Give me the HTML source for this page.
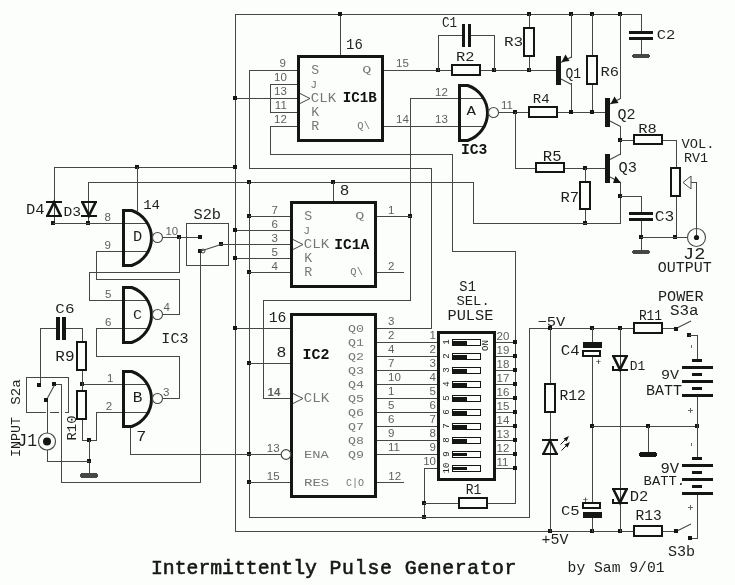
<!DOCTYPE html>
<html><head><meta charset="utf-8"><style>
html,body{margin:0;padding:0;background:#fcfefc;}
svg{display:block;will-change:transform;}
</style></head><body>
<svg width="735" height="585" viewBox="0 0 735 585">
<rect width="735" height="585" fill="#fcfefc"/>
<rect x="235" y="14" width="407" height="1" fill="#464845"/>
<rect x="235" y="14" width="1" height="518" fill="#464845"/>
<rect x="340" y="14" width="1" height="43" fill="#464845"/>
<rect x="338" y="12" width="4" height="4" fill="#141614"/>
<rect x="527" y="12" width="4" height="4" fill="#141614"/>
<rect x="569" y="12" width="4" height="4" fill="#141614"/>
<rect x="590" y="12" width="4" height="4" fill="#141614"/>
<rect x="618" y="12" width="4" height="4" fill="#141614"/>
<rect x="641" y="14" width="1" height="18" fill="#464845"/>
<rect x="641" y="38" width="1" height="17" fill="#464845"/>
<rect x="249" y="70" width="50" height="1" fill="#464845"/>
<rect x="249" y="70" width="1" height="99" fill="#464845"/>
<rect x="249" y="168" width="183" height="1" fill="#464845"/>
<rect x="431" y="168" width="1" height="161" fill="#464845"/>
<rect x="376" y="328" width="56" height="1" fill="#464845"/>
<rect x="270" y="84" width="29" height="1" fill="#464845"/>
<rect x="270" y="112" width="29" height="1" fill="#464845"/>
<rect x="270" y="84" width="1" height="29" fill="#464845"/>
<rect x="235" y="98" width="64" height="1" fill="#464845"/>
<rect x="233" y="96" width="4" height="4" fill="#141614"/>
<rect x="270" y="126" width="29" height="1" fill="#464845"/>
<rect x="270" y="126" width="1" height="29" fill="#464845"/>
<rect x="270" y="154" width="183" height="1" fill="#464845"/>
<rect x="452" y="154" width="1" height="98" fill="#464845"/>
<rect x="452" y="251" width="64" height="1" fill="#464845"/>
<rect x="515" y="251" width="1" height="253" fill="#464845"/>
<rect x="382" y="70" width="175" height="1" fill="#464845"/>
<rect x="436" y="68" width="4" height="4" fill="#141614"/>
<rect x="492" y="68" width="4" height="4" fill="#141614"/>
<rect x="527" y="68" width="4" height="4" fill="#141614"/>
<rect x="438" y="35" width="1" height="36" fill="#464845"/>
<rect x="494" y="35" width="1" height="36" fill="#464845"/>
<rect x="438" y="35" width="25" height="1" fill="#464845"/>
<rect x="470" y="35" width="25" height="1" fill="#464845"/>
<rect x="382" y="126" width="101" height="1" fill="#464845"/>
<rect x="410" y="98" width="73" height="1" fill="#464845"/>
<rect x="410" y="98" width="1" height="203" fill="#464845"/>
<rect x="408" y="214" width="4" height="4" fill="#141614"/>
<rect x="376" y="216" width="35" height="1" fill="#464845"/>
<rect x="376" y="272" width="28" height="1" fill="#464845"/>
<rect x="263" y="300" width="148" height="1" fill="#464845"/>
<rect x="263" y="300" width="1" height="99" fill="#464845"/>
<rect x="263" y="398" width="29" height="1" fill="#464845"/>
<rect x="529" y="14" width="1" height="14" fill="#464845"/>
<rect x="529" y="56" width="1" height="15" fill="#464845"/>
<rect x="571" y="14" width="1" height="44" fill="#464845"/>
<rect x="571" y="83" width="1" height="30" fill="#464845"/>
<rect x="592" y="14" width="1" height="42" fill="#464845"/>
<rect x="592" y="84" width="1" height="29" fill="#464845"/>
<rect x="498" y="112" width="31" height="1" fill="#464845"/>
<rect x="513" y="110" width="4" height="4" fill="#141614"/>
<rect x="557" y="112" width="49" height="1" fill="#464845"/>
<rect x="569" y="110" width="4" height="4" fill="#141614"/>
<rect x="590" y="110" width="4" height="4" fill="#141614"/>
<rect x="515" y="112" width="1" height="57" fill="#464845"/>
<rect x="515" y="168" width="21" height="1" fill="#464845"/>
<rect x="564" y="168" width="42" height="1" fill="#464845"/>
<rect x="583" y="166" width="4" height="4" fill="#141614"/>
<rect x="585" y="168" width="1" height="14" fill="#464845"/>
<rect x="585" y="209" width="1" height="15" fill="#464845"/>
<rect x="583" y="221" width="4" height="4" fill="#141614"/>
<rect x="473" y="223" width="148" height="1" fill="#464845"/>
<rect x="473" y="182" width="1" height="42" fill="#464845"/>
<rect x="620" y="14" width="1" height="85" fill="#464845"/>
<rect x="620" y="126" width="1" height="29" fill="#464845"/>
<rect x="618" y="138" width="4" height="4" fill="#141614"/>
<rect x="620" y="140" width="14" height="1" fill="#464845"/>
<rect x="662" y="140" width="15" height="1" fill="#464845"/>
<rect x="676" y="140" width="1" height="28" fill="#464845"/>
<rect x="676" y="196" width="1" height="42" fill="#464845"/>
<rect x="620" y="182" width="1" height="42" fill="#464845"/>
<rect x="618" y="194" width="4" height="4" fill="#141614"/>
<rect x="620" y="196" width="22" height="1" fill="#464845"/>
<rect x="641" y="196" width="1" height="17" fill="#464845"/>
<rect x="641" y="221" width="1" height="30" fill="#464845"/>
<rect x="639" y="235" width="4" height="4" fill="#141614"/>
<rect x="641" y="237" width="47" height="1" fill="#464845"/>
<rect x="673" y="235" width="4" height="4" fill="#141614"/>
<rect x="691" y="182" width="6" height="1" fill="#464845"/>
<rect x="696" y="182" width="1" height="56" fill="#464845"/>
<rect x="88" y="182" width="386" height="1" fill="#464845"/>
<rect x="247" y="180" width="4" height="4" fill="#141614"/>
<rect x="331" y="180" width="4" height="4" fill="#141614"/>
<rect x="333" y="182" width="1" height="21" fill="#464845"/>
<rect x="249" y="182" width="1" height="336" fill="#464845"/>
<rect x="247" y="214" width="4" height="4" fill="#141614"/>
<rect x="247" y="270" width="4" height="4" fill="#141614"/>
<rect x="247" y="361" width="4" height="4" fill="#141614"/>
<rect x="247" y="452" width="4" height="4" fill="#141614"/>
<rect x="247" y="480" width="4" height="4" fill="#141614"/>
<rect x="54" y="167" width="182" height="1" fill="#464845"/>
<rect x="135" y="165" width="4" height="4" fill="#141614"/>
<rect x="233" y="165" width="4" height="4" fill="#141614"/>
<rect x="137" y="167" width="1" height="44" fill="#464845"/>
<rect x="54" y="167" width="1" height="57" fill="#464845"/>
<rect x="51" y="221" width="4" height="4" fill="#141614"/>
<rect x="88" y="182" width="1" height="42" fill="#464845"/>
<rect x="86" y="221" width="4" height="4" fill="#141614"/>
<rect x="53" y="223" width="94" height="1" fill="#464845"/>
<rect x="96" y="251" width="51" height="1" fill="#464845"/>
<rect x="96" y="251" width="1" height="29" fill="#464845"/>
<rect x="96" y="279" width="84" height="1" fill="#464845"/>
<rect x="179" y="279" width="1" height="36" fill="#464845"/>
<rect x="162" y="314" width="18" height="1" fill="#464845"/>
<rect x="162" y="237" width="39" height="1" fill="#464845"/>
<rect x="177" y="235" width="4" height="4" fill="#141614"/>
<rect x="179" y="237" width="1" height="36" fill="#464845"/>
<rect x="89" y="272" width="91" height="1" fill="#464845"/>
<rect x="89" y="272" width="1" height="29" fill="#464845"/>
<rect x="89" y="300" width="58" height="1" fill="#464845"/>
<rect x="96" y="328" width="51" height="1" fill="#464845"/>
<rect x="96" y="328" width="1" height="29" fill="#464845"/>
<rect x="96" y="356" width="84" height="1" fill="#464845"/>
<rect x="179" y="356" width="1" height="43" fill="#464845"/>
<rect x="162" y="398" width="18" height="1" fill="#464845"/>
<rect x="82" y="384" width="65" height="1" fill="#464845"/>
<rect x="80" y="382" width="4" height="4" fill="#141614"/>
<rect x="96" y="412" width="51" height="1" fill="#464845"/>
<rect x="96" y="412" width="1" height="29" fill="#464845"/>
<rect x="82" y="440" width="15" height="1" fill="#464845"/>
<rect x="87" y="438" width="4" height="4" fill="#141614"/>
<rect x="89" y="440" width="1" height="34" fill="#464845"/>
<rect x="87" y="459" width="4" height="4" fill="#141614"/>
<rect x="130" y="426" width="1" height="29" fill="#464845"/>
<rect x="130" y="454" width="151" height="1" fill="#464845"/>
<rect x="40" y="328" width="17" height="1" fill="#464845"/>
<rect x="66" y="328" width="17" height="1" fill="#464845"/>
<rect x="82" y="328" width="1" height="14" fill="#464845"/>
<rect x="82" y="370" width="1" height="21" fill="#464845"/>
<rect x="82" y="419" width="1" height="22" fill="#464845"/>
<rect x="40" y="328" width="1" height="56" fill="#464845"/>
<rect x="54" y="384" width="8" height="1" fill="#464845"/>
<rect x="61" y="384" width="1" height="99" fill="#464845"/>
<rect x="61" y="482" width="140" height="1" fill="#464845"/>
<rect x="47" y="400" width="1" height="35" fill="#464845"/>
<rect x="47" y="449" width="1" height="13" fill="#464845"/>
<rect x="47" y="461" width="43" height="1" fill="#464845"/>
<rect x="200" y="251" width="1" height="232" fill="#464845"/>
<rect x="249" y="216" width="44" height="1" fill="#464845"/>
<rect x="235" y="230" width="58" height="1" fill="#464845"/>
<rect x="233" y="228" width="4" height="4" fill="#141614"/>
<rect x="221" y="244" width="72" height="1" fill="#464845"/>
<rect x="235" y="258" width="58" height="1" fill="#464845"/>
<rect x="233" y="256" width="4" height="4" fill="#141614"/>
<rect x="249" y="272" width="44" height="1" fill="#464845"/>
<rect x="235" y="328" width="57" height="1" fill="#464845"/>
<rect x="233" y="326" width="4" height="4" fill="#141614"/>
<rect x="249" y="363" width="43" height="1" fill="#464845"/>
<rect x="249" y="482" width="43" height="1" fill="#464845"/>
<rect x="376" y="342" width="63" height="1" fill="#464845"/>
<rect x="376" y="356" width="63" height="1" fill="#464845"/>
<rect x="376" y="370" width="63" height="1" fill="#464845"/>
<rect x="376" y="384" width="63" height="1" fill="#464845"/>
<rect x="376" y="398" width="63" height="1" fill="#464845"/>
<rect x="376" y="412" width="63" height="1" fill="#464845"/>
<rect x="376" y="426" width="63" height="1" fill="#464845"/>
<rect x="376" y="440" width="63" height="1" fill="#464845"/>
<rect x="376" y="454" width="63" height="1" fill="#464845"/>
<rect x="376" y="482" width="28" height="1" fill="#464845"/>
<rect x="495" y="342" width="21" height="1" fill="#464845"/>
<rect x="513" y="340" width="4" height="4" fill="#141614"/>
<rect x="495" y="356" width="21" height="1" fill="#464845"/>
<rect x="513" y="354" width="4" height="4" fill="#141614"/>
<rect x="495" y="370" width="21" height="1" fill="#464845"/>
<rect x="513" y="368" width="4" height="4" fill="#141614"/>
<rect x="495" y="384" width="21" height="1" fill="#464845"/>
<rect x="513" y="382" width="4" height="4" fill="#141614"/>
<rect x="495" y="398" width="21" height="1" fill="#464845"/>
<rect x="513" y="396" width="4" height="4" fill="#141614"/>
<rect x="495" y="412" width="21" height="1" fill="#464845"/>
<rect x="513" y="410" width="4" height="4" fill="#141614"/>
<rect x="495" y="426" width="21" height="1" fill="#464845"/>
<rect x="513" y="424" width="4" height="4" fill="#141614"/>
<rect x="495" y="440" width="21" height="1" fill="#464845"/>
<rect x="513" y="438" width="4" height="4" fill="#141614"/>
<rect x="495" y="454" width="21" height="1" fill="#464845"/>
<rect x="513" y="452" width="4" height="4" fill="#141614"/>
<rect x="495" y="468" width="21" height="1" fill="#464845"/>
<rect x="513" y="466" width="4" height="4" fill="#141614"/>
<rect x="424" y="468" width="15" height="1" fill="#464845"/>
<rect x="424" y="468" width="1" height="50" fill="#464845"/>
<rect x="422" y="501" width="4" height="4" fill="#141614"/>
<rect x="422" y="515" width="4" height="4" fill="#141614"/>
<rect x="424" y="503" width="35" height="1" fill="#464845"/>
<rect x="487" y="503" width="29" height="1" fill="#464845"/>
<rect x="249" y="517" width="281" height="1" fill="#464845"/>
<rect x="529" y="328" width="1" height="190" fill="#464845"/>
<rect x="235" y="531" width="399" height="1" fill="#464845"/>
<rect x="548" y="529" width="4" height="4" fill="#141614"/>
<rect x="590" y="529" width="4" height="4" fill="#141614"/>
<rect x="618" y="529" width="4" height="4" fill="#141614"/>
<rect x="529" y="328" width="105" height="1" fill="#464845"/>
<rect x="548" y="326" width="4" height="4" fill="#141614"/>
<rect x="590" y="326" width="4" height="4" fill="#141614"/>
<rect x="618" y="326" width="4" height="4" fill="#141614"/>
<rect x="662" y="328" width="14" height="1" fill="#464845"/>
<rect x="674" y="327" width="4" height="4" fill="#141614"/>
<rect x="687" y="333" width="4" height="4" fill="#141614"/>
<rect x="689" y="335" width="9" height="1" fill="#464845"/>
<rect x="697" y="335" width="1" height="26" fill="#464845"/>
<rect x="550" y="328" width="1" height="56" fill="#464845"/>
<rect x="550" y="412" width="1" height="120" fill="#464845"/>
<rect x="592" y="328" width="1" height="15" fill="#464845"/>
<rect x="592" y="356" width="1" height="147" fill="#464845"/>
<rect x="592" y="517" width="1" height="15" fill="#464845"/>
<rect x="590" y="424" width="4" height="4" fill="#141614"/>
<rect x="620" y="328" width="1" height="204" fill="#464845"/>
<rect x="592" y="426" width="106" height="1" fill="#464845"/>
<rect x="646" y="424" width="4" height="4" fill="#141614"/>
<rect x="695" y="424" width="4" height="4" fill="#141614"/>
<rect x="648" y="426" width="1" height="27" fill="#464845"/>
<rect x="697" y="396" width="1" height="31" fill="#464845"/>
<rect x="697" y="426" width="1" height="33" fill="#464845"/>
<rect x="697" y="494" width="1" height="45" fill="#464845"/>
<rect x="689" y="538" width="9" height="1" fill="#464845"/>
<rect x="688" y="536" width="4" height="4" fill="#141614"/>
<rect x="662" y="531" width="14" height="1" fill="#464845"/>
<rect x="674" y="529" width="4" height="4" fill="#141614"/>
<rect x="451" y="64" width="30" height="12" fill="#fcfefc"/>
<rect x="451" y="64" width="30" height="2" fill="#141614"/>
<rect x="451" y="74" width="30" height="2" fill="#141614"/>
<rect x="451" y="64" width="2" height="12" fill="#141614"/>
<rect x="479" y="64" width="2" height="12" fill="#141614"/>
<rect x="523" y="27" width="12" height="30" fill="#fcfefc"/>
<rect x="523" y="27" width="12" height="2" fill="#141614"/>
<rect x="523" y="55" width="12" height="2" fill="#141614"/>
<rect x="523" y="27" width="2" height="30" fill="#141614"/>
<rect x="533" y="27" width="2" height="30" fill="#141614"/>
<rect x="586" y="55" width="12" height="30" fill="#fcfefc"/>
<rect x="586" y="55" width="12" height="2" fill="#141614"/>
<rect x="586" y="83" width="12" height="2" fill="#141614"/>
<rect x="586" y="55" width="2" height="30" fill="#141614"/>
<rect x="596" y="55" width="2" height="30" fill="#141614"/>
<rect x="528" y="106" width="30" height="12" fill="#fcfefc"/>
<rect x="528" y="106" width="30" height="2" fill="#141614"/>
<rect x="528" y="116" width="30" height="2" fill="#141614"/>
<rect x="528" y="106" width="2" height="12" fill="#141614"/>
<rect x="556" y="106" width="2" height="12" fill="#141614"/>
<rect x="535" y="162" width="30" height="11" fill="#fcfefc"/>
<rect x="535" y="162" width="30" height="2" fill="#141614"/>
<rect x="535" y="171" width="30" height="2" fill="#141614"/>
<rect x="535" y="162" width="2" height="11" fill="#141614"/>
<rect x="563" y="162" width="2" height="11" fill="#141614"/>
<rect x="579" y="181" width="12" height="29" fill="#fcfefc"/>
<rect x="579" y="181" width="12" height="2" fill="#141614"/>
<rect x="579" y="208" width="12" height="2" fill="#141614"/>
<rect x="579" y="181" width="2" height="29" fill="#141614"/>
<rect x="589" y="181" width="2" height="29" fill="#141614"/>
<rect x="633" y="134" width="30" height="11" fill="#fcfefc"/>
<rect x="633" y="134" width="30" height="2" fill="#141614"/>
<rect x="633" y="143" width="30" height="2" fill="#141614"/>
<rect x="633" y="134" width="2" height="11" fill="#141614"/>
<rect x="661" y="134" width="2" height="11" fill="#141614"/>
<rect x="670" y="167" width="11" height="30" fill="#fcfefc"/>
<rect x="670" y="167" width="11" height="2" fill="#141614"/>
<rect x="670" y="195" width="11" height="2" fill="#141614"/>
<rect x="670" y="167" width="2" height="30" fill="#141614"/>
<rect x="679" y="167" width="2" height="30" fill="#141614"/>
<rect x="633" y="322" width="30" height="12" fill="#fcfefc"/>
<rect x="633" y="322" width="30" height="2" fill="#141614"/>
<rect x="633" y="332" width="30" height="2" fill="#141614"/>
<rect x="633" y="322" width="2" height="12" fill="#141614"/>
<rect x="661" y="322" width="2" height="12" fill="#141614"/>
<rect x="544" y="383" width="12" height="30" fill="#fcfefc"/>
<rect x="544" y="383" width="12" height="2" fill="#141614"/>
<rect x="544" y="411" width="12" height="2" fill="#141614"/>
<rect x="544" y="383" width="2" height="30" fill="#141614"/>
<rect x="554" y="383" width="2" height="30" fill="#141614"/>
<rect x="633" y="525" width="30" height="12" fill="#fcfefc"/>
<rect x="633" y="525" width="30" height="2" fill="#141614"/>
<rect x="633" y="535" width="30" height="2" fill="#141614"/>
<rect x="633" y="525" width="2" height="12" fill="#141614"/>
<rect x="661" y="525" width="2" height="12" fill="#141614"/>
<rect x="458" y="497" width="30" height="12" fill="#fcfefc"/>
<rect x="458" y="497" width="30" height="2" fill="#141614"/>
<rect x="458" y="507" width="30" height="2" fill="#141614"/>
<rect x="458" y="497" width="2" height="12" fill="#141614"/>
<rect x="486" y="497" width="2" height="12" fill="#141614"/>
<rect x="76" y="341" width="11" height="30" fill="#fcfefc"/>
<rect x="76" y="341" width="11" height="2" fill="#141614"/>
<rect x="76" y="369" width="11" height="2" fill="#141614"/>
<rect x="76" y="341" width="2" height="30" fill="#141614"/>
<rect x="85" y="341" width="2" height="30" fill="#141614"/>
<rect x="76" y="390" width="11" height="30" fill="#fcfefc"/>
<rect x="76" y="390" width="11" height="2" fill="#141614"/>
<rect x="76" y="418" width="11" height="2" fill="#141614"/>
<rect x="76" y="390" width="2" height="30" fill="#141614"/>
<rect x="85" y="390" width="2" height="30" fill="#141614"/>
<rect x="462" y="24" width="3" height="23" fill="#141614"/>
<rect x="468" y="24" width="3" height="23" fill="#141614"/>
<rect x="629" y="31" width="24" height="3" fill="#141614"/>
<rect x="629" y="37" width="24" height="3" fill="#141614"/>
<rect x="629" y="212" width="24" height="3" fill="#141614"/>
<rect x="629" y="218" width="24" height="3" fill="#141614"/>
<rect x="56" y="317" width="4" height="23" fill="#141614"/>
<rect x="62" y="317" width="4" height="23" fill="#141614"/>
<rect x="583" y="342" width="19" height="6" fill="#141614"/>
<rect x="582" y="350" width="19" height="7" fill="#fcfefc"/>
<rect x="582" y="350" width="19" height="2" fill="#141614"/>
<rect x="582" y="355" width="19" height="2" fill="#141614"/>
<rect x="582" y="350" width="2" height="7" fill="#141614"/>
<rect x="599" y="350" width="2" height="7" fill="#141614"/>
<text x="595.5" y="365" font-family="Liberation Mono" font-size="9.5" font-weight="normal" fill="#1a1a1a" text-anchor="start" >+</text>
<rect x="582" y="502" width="19" height="7" fill="#fcfefc"/>
<rect x="582" y="502" width="19" height="2" fill="#141614"/>
<rect x="582" y="507" width="19" height="2" fill="#141614"/>
<rect x="582" y="502" width="2" height="7" fill="#141614"/>
<rect x="599" y="502" width="2" height="7" fill="#141614"/>
<rect x="583" y="512" width="19" height="6" fill="#141614"/>
<text x="582.5" y="502.5" font-family="Liberation Mono" font-size="9.5" font-weight="normal" fill="#1a1a1a" text-anchor="start" >+</text>
<rect x="633" y="54" width="16" height="4" fill="#464845"/>
<rect x="632" y="55" width="18" height="2" fill="#464845"/>
<rect x="633" y="250" width="16" height="4" fill="#464845"/>
<rect x="632" y="251" width="18" height="2" fill="#464845"/>
<rect x="81" y="473" width="16" height="5" fill="#464845"/>
<rect x="80" y="474" width="18" height="3" fill="#464845"/>
<rect x="640" y="452" width="16" height="5" fill="#141614"/>
<rect x="639" y="453" width="18" height="3" fill="#141614"/>
<rect x="81" y="201" width="16" height="2" fill="#141614"/>
<rect x="81" y="215" width="16" height="2" fill="#141614"/>
<path d="M82.3,202 L89.0,215.5 L95.7,202" fill="none" stroke="#141614" stroke-width="2.6"/>
<rect x="46" y="201" width="16" height="2" fill="#141614"/>
<rect x="46" y="215" width="16" height="2" fill="#141614"/>
<path d="M47.3,216 L54.0,202.5 L60.7,216" fill="none" stroke="#141614" stroke-width="2.6"/>
<rect x="612" y="355" width="16" height="2" fill="#141614"/>
<rect x="612" y="369" width="16" height="2" fill="#141614"/>
<path d="M613.3,356 L620.0,369.5 L626.7,356" fill="none" stroke="#141614" stroke-width="2.6"/>
<rect x="612" y="366" width="2" height="3" fill="#141614"/>
<rect x="612" y="488" width="16" height="2" fill="#141614"/>
<rect x="612" y="502" width="16" height="2" fill="#141614"/>
<path d="M613.3,489 L620.0,502.5 L626.7,489" fill="none" stroke="#141614" stroke-width="2.6"/>
<rect x="612" y="499" width="2" height="3" fill="#141614"/>
<rect x="542" y="439" width="16" height="2" fill="#141614"/>
<rect x="542" y="453" width="16" height="2" fill="#141614"/>
<path d="M543.3,454 L550.0,440.5 L556.7,454" fill="none" stroke="#141614" stroke-width="2.2"/>
<g stroke="#141614" stroke-width="1" fill="none"><path d="M560.5,444.5 L566,439"/><path d="M561.5,450.5 L567,445"/></g>
<path d="M569,436 L563.5,438.5 L566.5,441.5 Z" fill="#141614"/><path d="M570,442 L564.5,444.5 L567.5,447.5 Z" fill="#141614"/>
<path d="M459.5,84.0 L459.5,140.5 L467.71,140.5 A29.0,29.0 0 0 0 467.71,85.5 L459.5,85.5" fill="none" stroke="#141614" stroke-width="3"/>
<circle cx="493.5" cy="112.5" r="5" fill="#fcfefc" stroke="#464845" stroke-width="1.1"/>
<path d="M123.5,209.0 L123.5,265.5 L131.71,265.5 A29.0,29.0 0 0 0 131.71,210.5 L123.5,210.5" fill="none" stroke="#141614" stroke-width="3"/>
<circle cx="157.5" cy="237.5" r="5" fill="#fcfefc" stroke="#464845" stroke-width="1.1"/>
<path d="M123.5,286.0 L123.5,342.5 L131.71,342.5 A29.0,29.0 0 0 0 131.71,287.5 L123.5,287.5" fill="none" stroke="#141614" stroke-width="3"/>
<circle cx="157.5" cy="314.5" r="5" fill="#fcfefc" stroke="#464845" stroke-width="1.1"/>
<path d="M123.5,370.0 L123.5,426.5 L131.71,426.5 A29.0,29.0 0 0 0 131.71,371.5 L123.5,371.5" fill="none" stroke="#141614" stroke-width="3"/>
<circle cx="157.5" cy="398.5" r="5" fill="#fcfefc" stroke="#464845" stroke-width="1.1"/>
<rect x="297" y="55" width="87" height="3" fill="#141614"/>
<rect x="297" y="139" width="87" height="3" fill="#141614"/>
<rect x="297" y="55" width="3" height="87" fill="#141614"/>
<rect x="381" y="55" width="3" height="87" fill="#141614"/>
<rect x="290" y="201" width="87" height="3" fill="#141614"/>
<rect x="290" y="285" width="87" height="3" fill="#141614"/>
<rect x="290" y="201" width="3" height="87" fill="#141614"/>
<rect x="374" y="201" width="3" height="87" fill="#141614"/>
<rect x="290" y="313" width="87" height="3" fill="#141614"/>
<rect x="290" y="495" width="87" height="3" fill="#141614"/>
<rect x="290" y="313" width="3" height="185" fill="#141614"/>
<rect x="374" y="313" width="3" height="185" fill="#141614"/>
<path d="M300,93.5 L310,98.5 L300,103.5" fill="none" stroke="#464845" stroke-width="1"/>
<path d="M293,239.5 L303,244.5 L293,249.5" fill="none" stroke="#464845" stroke-width="1"/>
<path d="M293,393.5 L303,398.5 L293,403.5" fill="none" stroke="#464845" stroke-width="1"/>
<circle cx="286" cy="454.5" r="4.8" fill="#fcfefc" stroke="#464845" stroke-width="1.2"/>
<rect x="437" y="331" width="59" height="3" fill="#141614"/>
<rect x="437" y="478" width="59" height="3" fill="#141614"/>
<rect x="437" y="331" width="3" height="150" fill="#141614"/>
<rect x="493" y="331" width="3" height="150" fill="#141614"/>
<rect x="452" y="339" width="29" height="7" fill="#fcfefc"/>
<rect x="452" y="339" width="29" height="1" fill="#141614"/>
<rect x="452" y="345" width="29" height="1" fill="#141614"/>
<rect x="452" y="339" width="1" height="7" fill="#141614"/>
<rect x="480" y="339" width="1" height="7" fill="#141614"/>
<rect x="452" y="341" width="15" height="5" fill="#141614"/>
<rect x="452" y="353" width="29" height="7" fill="#fcfefc"/>
<rect x="452" y="353" width="29" height="1" fill="#141614"/>
<rect x="452" y="359" width="29" height="1" fill="#141614"/>
<rect x="452" y="353" width="1" height="7" fill="#141614"/>
<rect x="480" y="353" width="1" height="7" fill="#141614"/>
<rect x="452" y="355" width="15" height="5" fill="#141614"/>
<rect x="452" y="367" width="29" height="7" fill="#fcfefc"/>
<rect x="452" y="367" width="29" height="1" fill="#141614"/>
<rect x="452" y="373" width="29" height="1" fill="#141614"/>
<rect x="452" y="367" width="1" height="7" fill="#141614"/>
<rect x="480" y="367" width="1" height="7" fill="#141614"/>
<rect x="452" y="369" width="15" height="5" fill="#141614"/>
<rect x="452" y="381" width="29" height="7" fill="#fcfefc"/>
<rect x="452" y="381" width="29" height="1" fill="#141614"/>
<rect x="452" y="387" width="29" height="1" fill="#141614"/>
<rect x="452" y="381" width="1" height="7" fill="#141614"/>
<rect x="480" y="381" width="1" height="7" fill="#141614"/>
<rect x="452" y="383" width="15" height="5" fill="#141614"/>
<rect x="452" y="395" width="29" height="7" fill="#fcfefc"/>
<rect x="452" y="395" width="29" height="1" fill="#141614"/>
<rect x="452" y="401" width="29" height="1" fill="#141614"/>
<rect x="452" y="395" width="1" height="7" fill="#141614"/>
<rect x="480" y="395" width="1" height="7" fill="#141614"/>
<rect x="452" y="397" width="15" height="5" fill="#141614"/>
<rect x="452" y="409" width="29" height="7" fill="#fcfefc"/>
<rect x="452" y="409" width="29" height="1" fill="#141614"/>
<rect x="452" y="415" width="29" height="1" fill="#141614"/>
<rect x="452" y="409" width="1" height="7" fill="#141614"/>
<rect x="480" y="409" width="1" height="7" fill="#141614"/>
<rect x="452" y="411" width="15" height="5" fill="#141614"/>
<rect x="452" y="423" width="29" height="7" fill="#fcfefc"/>
<rect x="452" y="423" width="29" height="1" fill="#141614"/>
<rect x="452" y="429" width="29" height="1" fill="#141614"/>
<rect x="452" y="423" width="1" height="7" fill="#141614"/>
<rect x="480" y="423" width="1" height="7" fill="#141614"/>
<rect x="452" y="425" width="15" height="5" fill="#141614"/>
<rect x="452" y="437" width="29" height="7" fill="#fcfefc"/>
<rect x="452" y="437" width="29" height="1" fill="#141614"/>
<rect x="452" y="443" width="29" height="1" fill="#141614"/>
<rect x="452" y="437" width="1" height="7" fill="#141614"/>
<rect x="480" y="437" width="1" height="7" fill="#141614"/>
<rect x="452" y="439" width="15" height="5" fill="#141614"/>
<rect x="452" y="451" width="29" height="7" fill="#fcfefc"/>
<rect x="452" y="451" width="29" height="1" fill="#141614"/>
<rect x="452" y="457" width="29" height="1" fill="#141614"/>
<rect x="452" y="451" width="1" height="7" fill="#141614"/>
<rect x="480" y="451" width="1" height="7" fill="#141614"/>
<rect x="452" y="453" width="15" height="3" fill="#141614"/>
<rect x="452" y="465" width="29" height="7" fill="#fcfefc"/>
<rect x="452" y="465" width="29" height="1" fill="#141614"/>
<rect x="452" y="471" width="29" height="1" fill="#141614"/>
<rect x="452" y="465" width="1" height="7" fill="#141614"/>
<rect x="480" y="465" width="1" height="7" fill="#141614"/>
<rect x="452" y="467" width="15" height="3" fill="#141614"/>
<rect x="186" y="223" width="43" height="1" fill="#464845"/>
<rect x="186" y="265" width="43" height="1" fill="#464845"/>
<rect x="186" y="223" width="1" height="43" fill="#464845"/>
<rect x="228" y="223" width="1" height="43" fill="#464845"/>
<rect x="26" y="377" width="43" height="1" fill="#464845"/>
<rect x="26" y="377" width="1" height="36" fill="#464845"/>
<rect x="68" y="377" width="1" height="36" fill="#464845"/>
<rect x="26" y="412" width="20" height="1" fill="#464845"/>
<rect x="50" y="412" width="9" height="1" fill="#464845"/>
<rect x="65" y="412" width="4" height="1" fill="#464845"/>
<rect x="198" y="235" width="4" height="4" fill="#141614"/>
<rect x="198" y="249" width="4" height="4" fill="#141614"/>
<rect x="219" y="242" width="4" height="4" fill="#141614"/>
<path d="M201,251 L221,244.5" stroke="#464845" stroke-width="1.2"/>
<circle cx="203" cy="251" r="2" fill="none" stroke="#464845"/>
<rect x="221" y="244" width="15" height="1" fill="#464845"/>
<rect x="37" y="383" width="4" height="4" fill="#141614"/>
<rect x="44" y="398" width="4" height="4" fill="#141614"/>
<rect x="52" y="382" width="4" height="4" fill="#141614"/>
<path d="M47.5,398 L54.5,385" stroke="#464845" stroke-width="1.1"/>
<path d="M678,327.5 L691,321" stroke="#464845" stroke-width="1.1"/>
<path d="M678,530.5 L691,524" stroke="#464845" stroke-width="1.1"/>
<rect x="556" y="56" width="5" height="29" fill="#141614"/>
<rect x="605" y="98" width="5" height="29" fill="#141614"/>
<rect x="605" y="154" width="5" height="29" fill="#141614"/>
<g stroke="#464845" stroke-width="1.1" fill="none"><path d="M561,62.5 L571.5,57"/><path d="M561,79 L571.5,84.5"/><path d="M610,104 L620.5,98.5"/><path d="M610,121 L620.5,126.5"/><path d="M610,159.5 L620.5,154"/><path d="M610,177 L620.5,182.5"/></g>
<path d="M561.5,62 L565.5,54.5 L569.5,61 Z" fill="#141614"/>
<path d="M610.5,104 L614.5,96.5 L618.5,103 Z" fill="#141614"/>
<path d="M613,183 L615.5,176 L621,183 Z" fill="#141614"/>
<path d="M691,176 L683,182.5 L691,189 Z" fill="#fcfefc" stroke="#464845" stroke-width="1"/>
<circle cx="696.5" cy="237.5" r="9" fill="#fcfefc" stroke="#464845" stroke-width="1.1"/>
<rect x="696" y="229" width="1" height="9" fill="#464845"/>
<circle cx="696.5" cy="237.5" r="2.6" fill="#141614"/>
<rect x="641" y="237" width="47" height="1" fill="#464845"/>
<circle cx="47" cy="441.5" r="8.5" fill="#fcfefc" stroke="#464845" stroke-width="1.2"/>
<circle cx="47" cy="441.5" r="4" fill="#141614"/>
<rect x="692" y="359" width="10" height="3" fill="#141614"/>
<rect x="682" y="366" width="31" height="3" fill="#141614"/>
<rect x="692" y="373" width="10" height="3" fill="#141614"/>
<rect x="682" y="380" width="31" height="3" fill="#141614"/>
<rect x="692" y="387" width="10" height="3" fill="#141614"/>
<rect x="682" y="394" width="31" height="3" fill="#141614"/>
<rect x="692" y="457" width="10" height="3" fill="#141614"/>
<rect x="682" y="464" width="31" height="3" fill="#141614"/>
<rect x="692" y="471" width="10" height="3" fill="#141614"/>
<rect x="682" y="478" width="31" height="3" fill="#141614"/>
<rect x="692" y="485" width="10" height="3" fill="#141614"/>
<rect x="682" y="492" width="31" height="3" fill="#141614"/>
<rect x="691" y="345" width="1" height="3" fill="#6a6a6a"/>
<rect x="691" y="443" width="1" height="3" fill="#6a6a6a"/>
<rect x="688" y="410" width="5" height="1" fill="#6a6a6a"/>
<rect x="690" y="408" width="1" height="5" fill="#6a6a6a"/>
<rect x="688" y="507" width="5" height="1" fill="#6a6a6a"/>
<rect x="690" y="505" width="1" height="5" fill="#6a6a6a"/>
<text x="150.95" y="573.8" font-family="Liberation Mono" font-size="19.8" fill="#161616" stroke="#161616" stroke-width="0.6" textLength="166.01" lengthAdjust="spacing">Intermittently</text>
<text x="329.43" y="573.8" font-family="Liberation Mono" font-size="19.8" fill="#161616" stroke="#161616" stroke-width="0.6" textLength="62.47" lengthAdjust="spacing">Pulse</text>
<text x="404.71" y="573.8" font-family="Liberation Mono" font-size="19.8" fill="#161616" stroke="#161616" stroke-width="0.6" textLength="111.77" lengthAdjust="spacing">Generator</text>
<text x="567.58" y="571.7" font-family="Liberation Mono" font-size="13.96" font-weight="normal" fill="#1e1e1e" text-anchor="start" textLength="96.93" lengthAdjust="spacingAndGlyphs" >by Sam 9/01</text>
<text x="346.02" y="49.2" font-family="Liberation Mono" font-size="14.72" font-weight="normal" fill="#1e1e1e" text-anchor="start" textLength="16.76" lengthAdjust="spacingAndGlyphs" >16</text>
<text x="442.03" y="27" font-family="Liberation Mono" font-size="14.57" font-weight="normal" fill="#1e1e1e" text-anchor="start" textLength="15.13" lengthAdjust="spacingAndGlyphs" >C1</text>
<text x="455.98" y="61" font-family="Liberation Mono" font-size="12.75" font-weight="normal" fill="#1e1e1e" text-anchor="start" textLength="18.44" lengthAdjust="spacingAndGlyphs" >R2</text>
<text x="503.91" y="46" font-family="Liberation Mono" font-size="13.66" font-weight="normal" fill="#1e1e1e" text-anchor="start" textLength="19.19" lengthAdjust="spacingAndGlyphs" >R3</text>
<text x="565.57" y="78" font-family="Liberation Mono" font-size="14.11" font-weight="normal" fill="#1e1e1e" text-anchor="start" textLength="15.56" lengthAdjust="spacingAndGlyphs" >Q1</text>
<text x="600.53" y="75.5" font-family="Liberation Mono" font-size="13.35" font-weight="normal" fill="#1e1e1e" text-anchor="start" textLength="18.54" lengthAdjust="spacingAndGlyphs" >R6</text>
<text x="656.71" y="39.4" font-family="Liberation Mono" font-size="13.66" font-weight="normal" fill="#1e1e1e" text-anchor="start" textLength="18.69" lengthAdjust="spacingAndGlyphs" >C2</text>
<text x="532.86" y="103" font-family="Liberation Mono" font-size="13.05" font-weight="normal" fill="#1e1e1e" text-anchor="start" textLength="16.79" lengthAdjust="spacingAndGlyphs" >R4</text>
<text x="617.47" y="118.5" font-family="Liberation Mono" font-size="14.11" font-weight="normal" fill="#1e1e1e" text-anchor="start" textLength="18.06" lengthAdjust="spacingAndGlyphs" >Q2</text>
<text x="638.33" y="133" font-family="Liberation Mono" font-size="13.35" font-weight="normal" fill="#1e1e1e" text-anchor="start" textLength="18.54" lengthAdjust="spacingAndGlyphs" >R8</text>
<text x="681.41" y="147.6" font-family="Liberation Mono" font-size="13.66" font-weight="normal" fill="#1e1e1e" text-anchor="start" textLength="32.99" lengthAdjust="spacingAndGlyphs" >VOL.</text>
<text x="683.96" y="161.6" font-family="Liberation Mono" font-size="13.05" font-weight="normal" fill="#1e1e1e" text-anchor="start" textLength="24.09" lengthAdjust="spacingAndGlyphs" >RV1</text>
<text x="542.88" y="160.5" font-family="Liberation Mono" font-size="13.96" font-weight="normal" fill="#1e1e1e" text-anchor="start" textLength="18.73" lengthAdjust="spacingAndGlyphs" >R5</text>
<text x="618.48" y="171.8" font-family="Liberation Mono" font-size="13.96" font-weight="normal" fill="#1e1e1e" text-anchor="start" textLength="18.43" lengthAdjust="spacingAndGlyphs" >Q3</text>
<text x="560.47" y="201.6" font-family="Liberation Mono" font-size="14.11" font-weight="normal" fill="#1e1e1e" text-anchor="start" textLength="18.66" lengthAdjust="spacingAndGlyphs" >R7</text>
<text x="654.65" y="220.5" font-family="Liberation Mono" font-size="14.42" font-weight="normal" fill="#1e1e1e" text-anchor="start" textLength="19.51" lengthAdjust="spacingAndGlyphs" >C3</text>
<text x="657.73" y="271.8" font-family="Liberation Mono" font-size="14.57" font-weight="normal" fill="#1e1e1e" text-anchor="start" textLength="54.03" lengthAdjust="spacingAndGlyphs" >OUTPUT</text>
<text x="657.97" y="300.6" font-family="Liberation Mono" font-size="14.11" font-weight="normal" fill="#1e1e1e" text-anchor="start" textLength="45.56" lengthAdjust="spacingAndGlyphs" >POWER</text>
<text x="670.0" y="314.6" font-family="Liberation Mono" font-size="15.02" font-weight="normal" fill="#1e1e1e" text-anchor="start" textLength="28.7" lengthAdjust="spacingAndGlyphs" >S3a</text>
<text x="638.88" y="319.7" font-family="Liberation Mono" font-size="13.96" font-weight="normal" fill="#1e1e1e" text-anchor="start" textLength="23.23" lengthAdjust="spacingAndGlyphs" >R11</text>
<text x="537.42" y="326.3" font-family="Liberation Mono" font-size="13.51" font-weight="normal" fill="#1e1e1e" text-anchor="start" textLength="27.76" lengthAdjust="spacingAndGlyphs" >−5V</text>
<text x="560.86" y="355" font-family="Liberation Mono" font-size="14.26" font-weight="normal" fill="#1e1e1e" text-anchor="start" textLength="18.78" lengthAdjust="spacingAndGlyphs" >C4</text>
<text x="629.73" y="369.8" font-family="Liberation Mono" font-size="13.35" font-weight="normal" fill="#1e1e1e" text-anchor="start" textLength="15.54" lengthAdjust="spacingAndGlyphs" >D1</text>
<text x="559.42" y="400" font-family="Liberation Mono" font-size="14.72" font-weight="normal" fill="#1e1e1e" text-anchor="start" textLength="26.36" lengthAdjust="spacingAndGlyphs" >R12</text>
<text x="660.96" y="378.6" font-family="Liberation Mono" font-size="13.05" font-weight="normal" fill="#1e1e1e" text-anchor="start" textLength="18.09" lengthAdjust="spacingAndGlyphs" >9V</text>
<text x="646.08" y="394.6" font-family="Liberation Mono" font-size="13.96" font-weight="normal" fill="#1e1e1e" text-anchor="start" textLength="36.03" lengthAdjust="spacingAndGlyphs" >BATT</text>
<text x="660.43" y="472.8" font-family="Liberation Mono" font-size="14.57" font-weight="normal" fill="#1e1e1e" text-anchor="start" textLength="18.73" lengthAdjust="spacingAndGlyphs" >9V</text>
<text x="643.61" y="484.5" font-family="Liberation Mono" font-size="13.66" font-weight="normal" fill="#1e1e1e" text-anchor="start" textLength="41.49" lengthAdjust="spacingAndGlyphs" >BATT.</text>
<text x="629.67" y="500.6" font-family="Liberation Mono" font-size="14.11" font-weight="normal" fill="#1e1e1e" text-anchor="start" textLength="18.66" lengthAdjust="spacingAndGlyphs" >D2</text>
<text x="560.93" y="514.5" font-family="Liberation Mono" font-size="13.35" font-weight="normal" fill="#1e1e1e" text-anchor="start" textLength="18.64" lengthAdjust="spacingAndGlyphs" >C5</text>
<text x="635.48" y="520" font-family="Liberation Mono" font-size="13.96" font-weight="normal" fill="#1e1e1e" text-anchor="start" textLength="26.23" lengthAdjust="spacingAndGlyphs" >R13</text>
<text x="541.57" y="543.9" font-family="Liberation Mono" font-size="14.11" font-weight="normal" fill="#1e1e1e" text-anchor="start" textLength="26.86" lengthAdjust="spacingAndGlyphs" >+5V</text>
<text x="667.97" y="555.8" font-family="Liberation Mono" font-size="15.33" font-weight="normal" fill="#1e1e1e" text-anchor="start" textLength="27.15" lengthAdjust="spacingAndGlyphs" >S3b</text>
<text x="459.36" y="291" font-family="Liberation Mono" font-size="14.26" font-weight="normal" fill="#1e1e1e" text-anchor="start" textLength="16.58" lengthAdjust="spacingAndGlyphs" >S1</text>
<text x="456.47" y="305.2" font-family="Liberation Mono" font-size="12.9" font-weight="normal" fill="#1e1e1e" text-anchor="start" textLength="33.26" lengthAdjust="spacingAndGlyphs" >SEL.</text>
<text x="447.49" y="319.8" font-family="Liberation Mono" font-size="15.17" font-weight="normal" fill="#1e1e1e" text-anchor="start" textLength="45.93" lengthAdjust="spacingAndGlyphs" >PULSE</text>
<text x="465.8" y="494.2" font-family="Liberation Mono" font-size="15.02" font-weight="normal" fill="#1e1e1e" text-anchor="start" textLength="15.6" lengthAdjust="spacingAndGlyphs" >R1</text>
<text x="339.86" y="195.4" font-family="Liberation Mono" font-size="14.26" font-weight="normal" fill="#1e1e1e" text-anchor="start" textLength="9.58" lengthAdjust="spacingAndGlyphs" >8</text>
<text x="143.16" y="209.4" font-family="Liberation Mono" font-size="13.05" font-weight="normal" fill="#1e1e1e" text-anchor="start" textLength="16.89" lengthAdjust="spacingAndGlyphs" >14</text>
<text x="26.05" y="214.4" font-family="Liberation Mono" font-size="14.42" font-weight="normal" fill="#1e1e1e" text-anchor="start" textLength="18.61" lengthAdjust="spacingAndGlyphs" >D4</text>
<text x="63.52" y="216.2" font-family="Liberation Mono" font-size="13.51" font-weight="normal" fill="#1e1e1e" text-anchor="start" textLength="17.56" lengthAdjust="spacingAndGlyphs" >D3</text>
<text x="193.46" y="219.2" font-family="Liberation Mono" font-size="15.48" font-weight="normal" fill="#1e1e1e" text-anchor="start" textLength="27.58" lengthAdjust="spacingAndGlyphs" >S2b</text>
<text x="55.33" y="312.5" font-family="Liberation Mono" font-size="13.35" font-weight="normal" fill="#1e1e1e" text-anchor="start" textLength="19.14" lengthAdjust="spacingAndGlyphs" >C6</text>
<text x="55.3" y="361.4" font-family="Liberation Mono" font-size="13.81" font-weight="normal" fill="#1e1e1e" text-anchor="start" textLength="19.21" lengthAdjust="spacingAndGlyphs" >R9</text>
<text x="161.36" y="343.1" font-family="Liberation Mono" font-size="15.48" font-weight="normal" fill="#1e1e1e" text-anchor="start" textLength="27.08" lengthAdjust="spacingAndGlyphs" >IC3</text>
<text x="136.37" y="440.6" font-family="Liberation Mono" font-size="14.11" font-weight="normal" fill="#1e1e1e" text-anchor="start" textLength="10.06" lengthAdjust="spacingAndGlyphs" >7</text>
<text x="268.67" y="322.1" font-family="Liberation Mono" font-size="14.11" font-weight="normal" fill="#1e1e1e" text-anchor="start" textLength="17.66" lengthAdjust="spacingAndGlyphs" >16</text>
<text x="276.47" y="357" font-family="Liberation Mono" font-size="14.11" font-weight="normal" fill="#1e1e1e" text-anchor="start" textLength="9.86" lengthAdjust="spacingAndGlyphs" >8</text>
<text x="17.34" y="446" font-family="Liberation Mono" font-size="18.21" font-weight="normal" fill="#1e1e1e" text-anchor="start" textLength="19.81" lengthAdjust="spacingAndGlyphs" >J1</text>
<text x="683.13" y="258.5" font-family="Liberation Mono" font-size="17.15" font-weight="normal" fill="#1e1e1e" text-anchor="start" textLength="22.24" lengthAdjust="spacingAndGlyphs" >J2</text>
<text x="466.51" y="114.5" font-family="Liberation Mono" font-size="13.66" font-weight="normal" fill="#1e1e1e" text-anchor="start" textLength="9.49" lengthAdjust="spacingAndGlyphs" >A</text>
<text x="132.9" y="240.5" font-family="Liberation Mono" font-size="13.81" font-weight="normal" fill="#1e1e1e" text-anchor="start" textLength="9.21" lengthAdjust="spacingAndGlyphs" >D</text>
<text x="132.9" y="318.5" font-family="Liberation Mono" font-size="12.44" font-weight="normal" fill="#1e1e1e" text-anchor="start" textLength="9.09" lengthAdjust="spacingAndGlyphs" >C</text>
<text x="132.67" y="401.6" font-family="Liberation Mono" font-size="14.11" font-weight="normal" fill="#1e1e1e" text-anchor="start" textLength="9.66" lengthAdjust="spacingAndGlyphs" >B</text>
<text x="342.65" y="102" font-family="Liberation Mono" font-size="14.42" font-weight="bold" fill="#111" text-anchor="start" textLength="34.01" lengthAdjust="spacingAndGlyphs" >IC1B</text>
<text x="334.36" y="248.8" font-family="Liberation Mono" font-size="15.48" font-weight="bold" fill="#111" text-anchor="start" textLength="34.88" lengthAdjust="spacingAndGlyphs" >IC1A</text>
<text x="302.48" y="359" font-family="Liberation Mono" font-size="13.96" font-weight="bold" fill="#111" text-anchor="start" textLength="26.93" lengthAdjust="spacingAndGlyphs" >IC2</text>
<text x="460.95" y="153.5" font-family="Liberation Mono" font-size="14.42" font-weight="bold" fill="#111" text-anchor="start" textLength="26.41" lengthAdjust="spacingAndGlyphs" >IC3</text>
<text x="311.33" y="73.8" font-family="Liberation Mono" font-size="12.14" font-weight="normal" fill="#777" text-anchor="start" textLength="7.94" lengthAdjust="spacingAndGlyphs" >S</text>
<text x="310.34" y="87.6" font-family="Liberation Mono" font-size="10.77" font-weight="normal" fill="#777" text-anchor="start" textLength="6.82" lengthAdjust="spacingAndGlyphs" >J</text>
<text x="310.82" y="102.1" font-family="Liberation Mono" font-size="12.29" font-weight="normal" fill="#777" text-anchor="start" textLength="25.47" lengthAdjust="spacingAndGlyphs" >CLK</text>
<text x="311.33" y="115.8" font-family="Liberation Mono" font-size="12.14" font-weight="normal" fill="#777" text-anchor="start" textLength="7.94" lengthAdjust="spacingAndGlyphs" >K</text>
<text x="311.33" y="129.8" font-family="Liberation Mono" font-size="12.14" font-weight="normal" fill="#777" text-anchor="start" textLength="7.94" lengthAdjust="spacingAndGlyphs" >R</text>
<text x="362.15" y="72.8" font-family="Liberation Mono" font-size="10.62" font-weight="normal" fill="#777" text-anchor="start" textLength="9.1" lengthAdjust="spacingAndGlyphs" >Q</text>
<text x="357.34" y="128.6" font-family="Liberation Mono" font-size="10.77" font-weight="normal" fill="#777" text-anchor="start" textLength="12.62" lengthAdjust="spacingAndGlyphs" >Q\</text>
<text x="304.33" y="219.8" font-family="Liberation Mono" font-size="12.14" font-weight="normal" fill="#777" text-anchor="start" textLength="7.94" lengthAdjust="spacingAndGlyphs" >S</text>
<text x="303.34" y="233.6" font-family="Liberation Mono" font-size="10.77" font-weight="normal" fill="#777" text-anchor="start" textLength="6.82" lengthAdjust="spacingAndGlyphs" >J</text>
<text x="303.82" y="248.1" font-family="Liberation Mono" font-size="12.29" font-weight="normal" fill="#777" text-anchor="start" textLength="25.47" lengthAdjust="spacingAndGlyphs" >CLK</text>
<text x="304.33" y="261.8" font-family="Liberation Mono" font-size="12.14" font-weight="normal" fill="#777" text-anchor="start" textLength="7.94" lengthAdjust="spacingAndGlyphs" >K</text>
<text x="304.33" y="275.8" font-family="Liberation Mono" font-size="12.14" font-weight="normal" fill="#777" text-anchor="start" textLength="7.94" lengthAdjust="spacingAndGlyphs" >R</text>
<text x="355.15" y="218.8" font-family="Liberation Mono" font-size="10.62" font-weight="normal" fill="#777" text-anchor="start" textLength="9.1" lengthAdjust="spacingAndGlyphs" >Q</text>
<text x="350.34" y="274.6" font-family="Liberation Mono" font-size="10.77" font-weight="normal" fill="#777" text-anchor="start" textLength="12.62" lengthAdjust="spacingAndGlyphs" >Q\</text>
<text x="348.07" y="332" font-family="Liberation Mono" font-size="11.68" font-weight="normal" fill="#777" text-anchor="start" textLength="15.97" lengthAdjust="spacingAndGlyphs" >Q0</text>
<text x="348.07" y="346" font-family="Liberation Mono" font-size="11.68" font-weight="normal" fill="#777" text-anchor="start" textLength="15.97" lengthAdjust="spacingAndGlyphs" >Q1</text>
<text x="348.07" y="360" font-family="Liberation Mono" font-size="11.68" font-weight="normal" fill="#777" text-anchor="start" textLength="15.97" lengthAdjust="spacingAndGlyphs" >Q2</text>
<text x="348.07" y="374" font-family="Liberation Mono" font-size="11.68" font-weight="normal" fill="#777" text-anchor="start" textLength="15.97" lengthAdjust="spacingAndGlyphs" >Q3</text>
<text x="348.07" y="388" font-family="Liberation Mono" font-size="11.68" font-weight="normal" fill="#777" text-anchor="start" textLength="15.97" lengthAdjust="spacingAndGlyphs" >Q4</text>
<text x="348.07" y="402" font-family="Liberation Mono" font-size="11.68" font-weight="normal" fill="#777" text-anchor="start" textLength="15.97" lengthAdjust="spacingAndGlyphs" >Q5</text>
<text x="348.07" y="416" font-family="Liberation Mono" font-size="11.68" font-weight="normal" fill="#777" text-anchor="start" textLength="15.97" lengthAdjust="spacingAndGlyphs" >Q6</text>
<text x="348.07" y="430" font-family="Liberation Mono" font-size="11.68" font-weight="normal" fill="#777" text-anchor="start" textLength="15.97" lengthAdjust="spacingAndGlyphs" >Q7</text>
<text x="348.07" y="444" font-family="Liberation Mono" font-size="11.68" font-weight="normal" fill="#777" text-anchor="start" textLength="15.97" lengthAdjust="spacingAndGlyphs" >Q8</text>
<text x="348.07" y="458" font-family="Liberation Mono" font-size="11.68" font-weight="normal" fill="#777" text-anchor="start" textLength="15.97" lengthAdjust="spacingAndGlyphs" >Q9</text>
<text x="303.82" y="402.1" font-family="Liberation Mono" font-size="12.29" font-weight="normal" fill="#777" text-anchor="start" textLength="25.47" lengthAdjust="spacingAndGlyphs" >CLK</text>
<text x="303.97" y="458" font-family="Liberation Mono" font-size="11.68" font-weight="normal" fill="#777" text-anchor="start" textLength="24.77" lengthAdjust="spacingAndGlyphs" >ENA</text>
<text x="303.98" y="485.7" font-family="Liberation Mono" font-size="11.53" font-weight="normal" fill="#777" text-anchor="start" textLength="25.25" lengthAdjust="spacingAndGlyphs" >RES</text>
<text x="345.88" y="485.7" font-family="Liberation Mono" font-size="11.53" font-weight="normal" fill="#777" text-anchor="start" textLength="18.15" lengthAdjust="spacingAndGlyphs" >C|O</text>
<text x="285.8" y="67" font-family="Liberation Sans" font-size="11.5" font-weight="normal" fill="#5e5e5e" text-anchor="end" >9</text>
<text x="286.8" y="80.5" font-family="Liberation Sans" font-size="11.5" font-weight="normal" fill="#5e5e5e" text-anchor="end" >10</text>
<text x="286.8" y="94.5" font-family="Liberation Sans" font-size="11.5" font-weight="normal" fill="#5e5e5e" text-anchor="end" >13</text>
<text x="286.8" y="108.5" font-family="Liberation Sans" font-size="11.5" font-weight="normal" fill="#5e5e5e" text-anchor="end" >11</text>
<text x="286.8" y="122.5" font-family="Liberation Sans" font-size="11.5" font-weight="normal" fill="#5e5e5e" text-anchor="end" >12</text>
<text x="396" y="67" font-family="Liberation Sans" font-size="11.5" font-weight="normal" fill="#5e5e5e" text-anchor="start" >15</text>
<text x="396" y="122.5" font-family="Liberation Sans" font-size="11.5" font-weight="normal" fill="#5e5e5e" text-anchor="start" >14</text>
<text x="435" y="95.5" font-family="Liberation Sans" font-size="11.5" font-weight="normal" fill="#5e5e5e" text-anchor="start" >12</text>
<text x="435" y="122.5" font-family="Liberation Sans" font-size="11.5" font-weight="normal" fill="#5e5e5e" text-anchor="start" >13</text>
<text x="501" y="108.7" font-family="Liberation Sans" font-size="11.5" font-weight="normal" fill="#5e5e5e" text-anchor="start" >11</text>
<text x="277.8" y="214" font-family="Liberation Sans" font-size="11.5" font-weight="normal" fill="#5e5e5e" text-anchor="end" >7</text>
<text x="277.8" y="228" font-family="Liberation Sans" font-size="11.5" font-weight="normal" fill="#5e5e5e" text-anchor="end" >6</text>
<text x="277.8" y="242" font-family="Liberation Sans" font-size="11.5" font-weight="normal" fill="#5e5e5e" text-anchor="end" >3</text>
<text x="277.8" y="256" font-family="Liberation Sans" font-size="11.5" font-weight="normal" fill="#5e5e5e" text-anchor="end" >5</text>
<text x="277.8" y="270" font-family="Liberation Sans" font-size="11.5" font-weight="normal" fill="#5e5e5e" text-anchor="end" >4</text>
<text x="388" y="213.5" font-family="Liberation Sans" font-size="11.5" font-weight="normal" fill="#5e5e5e" text-anchor="start" >1</text>
<text x="388" y="270" font-family="Liberation Sans" font-size="11.5" font-weight="normal" fill="#5e5e5e" text-anchor="start" >2</text>
<text x="104.6" y="221" font-family="Liberation Sans" font-size="11.5" font-weight="normal" fill="#5e5e5e" text-anchor="start" >8</text>
<text x="104.6" y="249" font-family="Liberation Sans" font-size="11.5" font-weight="normal" fill="#5e5e5e" text-anchor="start" >9</text>
<text x="165.4" y="234.6" font-family="Liberation Sans" font-size="11.5" font-weight="normal" fill="#5e5e5e" text-anchor="start" >10</text>
<text x="105" y="297.6" font-family="Liberation Sans" font-size="11.5" font-weight="normal" fill="#5e5e5e" text-anchor="start" >5</text>
<text x="105" y="326" font-family="Liberation Sans" font-size="11.5" font-weight="normal" fill="#5e5e5e" text-anchor="start" >6</text>
<text x="163.6" y="311.2" font-family="Liberation Sans" font-size="11.5" font-weight="normal" fill="#5e5e5e" text-anchor="start" >4</text>
<text x="107" y="382" font-family="Liberation Sans" font-size="11.5" font-weight="normal" fill="#5e5e5e" text-anchor="start" >1</text>
<text x="105.7" y="410" font-family="Liberation Sans" font-size="11.5" font-weight="normal" fill="#5e5e5e" text-anchor="start" >2</text>
<text x="163" y="395.5" font-family="Liberation Sans" font-size="11.5" font-weight="normal" fill="#5e5e5e" text-anchor="start" >3</text>
<text x="279.6" y="452.3" font-family="Liberation Sans" font-size="11.5" font-weight="normal" fill="#5e5e5e" text-anchor="end" >13</text>
<text x="279.6" y="480" font-family="Liberation Sans" font-size="11.5" font-weight="normal" fill="#5e5e5e" text-anchor="end" >15</text>
<text x="280.3" y="396" font-family="Liberation Sans" font-size="11.5" font-weight="bold" fill="#5e5e5e" text-anchor="end" >14</text>
<text x="388" y="325" font-family="Liberation Sans" font-size="11.5" font-weight="normal" fill="#5e5e5e" text-anchor="start" >3</text>
<text x="388" y="339" font-family="Liberation Sans" font-size="11.5" font-weight="normal" fill="#5e5e5e" text-anchor="start" >2</text>
<text x="388" y="353" font-family="Liberation Sans" font-size="11.5" font-weight="normal" fill="#5e5e5e" text-anchor="start" >4</text>
<text x="388" y="367" font-family="Liberation Sans" font-size="11.5" font-weight="normal" fill="#5e5e5e" text-anchor="start" >7</text>
<text x="388" y="381" font-family="Liberation Sans" font-size="11.5" font-weight="normal" fill="#5e5e5e" text-anchor="start" >10</text>
<text x="388" y="395" font-family="Liberation Sans" font-size="11.5" font-weight="normal" fill="#5e5e5e" text-anchor="start" >1</text>
<text x="388" y="409" font-family="Liberation Sans" font-size="11.5" font-weight="normal" fill="#5e5e5e" text-anchor="start" >5</text>
<text x="388" y="423" font-family="Liberation Sans" font-size="11.5" font-weight="normal" fill="#5e5e5e" text-anchor="start" >6</text>
<text x="388" y="437" font-family="Liberation Sans" font-size="11.5" font-weight="normal" fill="#5e5e5e" text-anchor="start" >9</text>
<text x="388" y="451" font-family="Liberation Sans" font-size="11.5" font-weight="normal" fill="#5e5e5e" text-anchor="start" >11</text>
<text x="388.3" y="480" font-family="Liberation Sans" font-size="11.5" font-weight="normal" fill="#5e5e5e" text-anchor="start" >12</text>
<text x="436.0" y="339" font-family="Liberation Sans" font-size="11.5" font-weight="normal" fill="#5e5e5e" text-anchor="end" >1</text>
<text x="496.5" y="339.7" font-family="Liberation Sans" font-size="11.5" font-weight="normal" fill="#5e5e5e" text-anchor="start" >20</text>
<text x="436.0" y="353" font-family="Liberation Sans" font-size="11.5" font-weight="normal" fill="#5e5e5e" text-anchor="end" >2</text>
<text x="496.5" y="353.7" font-family="Liberation Sans" font-size="11.5" font-weight="normal" fill="#5e5e5e" text-anchor="start" >19</text>
<text x="436.0" y="367" font-family="Liberation Sans" font-size="11.5" font-weight="normal" fill="#5e5e5e" text-anchor="end" >3</text>
<text x="496.5" y="367.7" font-family="Liberation Sans" font-size="11.5" font-weight="normal" fill="#5e5e5e" text-anchor="start" >18</text>
<text x="436.0" y="381" font-family="Liberation Sans" font-size="11.5" font-weight="normal" fill="#5e5e5e" text-anchor="end" >4</text>
<text x="496.5" y="381.7" font-family="Liberation Sans" font-size="11.5" font-weight="normal" fill="#5e5e5e" text-anchor="start" >17</text>
<text x="436.0" y="395" font-family="Liberation Sans" font-size="11.5" font-weight="normal" fill="#5e5e5e" text-anchor="end" >5</text>
<text x="496.5" y="395.7" font-family="Liberation Sans" font-size="11.5" font-weight="normal" fill="#5e5e5e" text-anchor="start" >16</text>
<text x="436.0" y="409" font-family="Liberation Sans" font-size="11.5" font-weight="normal" fill="#5e5e5e" text-anchor="end" >6</text>
<text x="496.5" y="409.7" font-family="Liberation Sans" font-size="11.5" font-weight="normal" fill="#5e5e5e" text-anchor="start" >15</text>
<text x="436.0" y="423" font-family="Liberation Sans" font-size="11.5" font-weight="normal" fill="#5e5e5e" text-anchor="end" >7</text>
<text x="496.5" y="423.7" font-family="Liberation Sans" font-size="11.5" font-weight="normal" fill="#5e5e5e" text-anchor="start" >14</text>
<text x="436.0" y="437" font-family="Liberation Sans" font-size="11.5" font-weight="normal" fill="#5e5e5e" text-anchor="end" >8</text>
<text x="496.5" y="437.7" font-family="Liberation Sans" font-size="11.5" font-weight="normal" fill="#5e5e5e" text-anchor="start" >13</text>
<text x="436.0" y="451" font-family="Liberation Sans" font-size="11.5" font-weight="normal" fill="#5e5e5e" text-anchor="end" >9</text>
<text x="496.5" y="451.7" font-family="Liberation Sans" font-size="11.5" font-weight="normal" fill="#5e5e5e" text-anchor="start" >12</text>
<text x="436.0" y="465" font-family="Liberation Sans" font-size="11.5" font-weight="normal" fill="#5e5e5e" text-anchor="end" >10</text>
<text x="496.5" y="465.7" font-family="Liberation Sans" font-size="11.5" font-weight="normal" fill="#5e5e5e" text-anchor="start" >11</text>
<text transform="translate(448.5,342) rotate(-90)" font-family="Liberation Mono" font-size="9" fill="#222" text-anchor="middle">1</text>
<text transform="translate(448.5,356) rotate(-90)" font-family="Liberation Mono" font-size="9" fill="#222" text-anchor="middle">2</text>
<text transform="translate(448.5,370) rotate(-90)" font-family="Liberation Mono" font-size="9" fill="#222" text-anchor="middle">3</text>
<text transform="translate(448.5,384) rotate(-90)" font-family="Liberation Mono" font-size="9" fill="#222" text-anchor="middle">4</text>
<text transform="translate(448.5,398) rotate(-90)" font-family="Liberation Mono" font-size="9" fill="#222" text-anchor="middle">5</text>
<text transform="translate(448.5,412) rotate(-90)" font-family="Liberation Mono" font-size="9" fill="#222" text-anchor="middle">6</text>
<text transform="translate(448.5,426) rotate(-90)" font-family="Liberation Mono" font-size="9" fill="#222" text-anchor="middle">7</text>
<text transform="translate(448.5,440) rotate(-90)" font-family="Liberation Mono" font-size="9" fill="#222" text-anchor="middle">8</text>
<text transform="translate(448.5,454) rotate(-90)" font-family="Liberation Mono" font-size="9" fill="#222" text-anchor="middle">9</text>
<text transform="translate(448.5,468) rotate(-90)" font-family="Liberation Mono" font-size="9" fill="#222" text-anchor="middle">10</text>
<text transform="translate(488,345.5) rotate(-90)" font-family="Liberation Mono" font-size="9" fill="#222" text-anchor="middle">ON</text>
<text transform="translate(20,392) rotate(-90)" font-family="Liberation Mono" font-size="13.5" fill="#1e1e1e" text-anchor="middle" textLength="25.4" lengthAdjust="spacingAndGlyphs">S2a</text>
<text transform="translate(20,437) rotate(-90)" font-family="Liberation Mono" font-size="13.5" fill="#1e1e1e" text-anchor="middle" textLength="40" lengthAdjust="spacingAndGlyphs">INPUT</text>
<text transform="translate(75.5,428) rotate(-90)" font-family="Liberation Mono" font-size="13.5" fill="#1e1e1e" text-anchor="middle" textLength="25" lengthAdjust="spacingAndGlyphs">R10</text>
</svg>
</body></html>
